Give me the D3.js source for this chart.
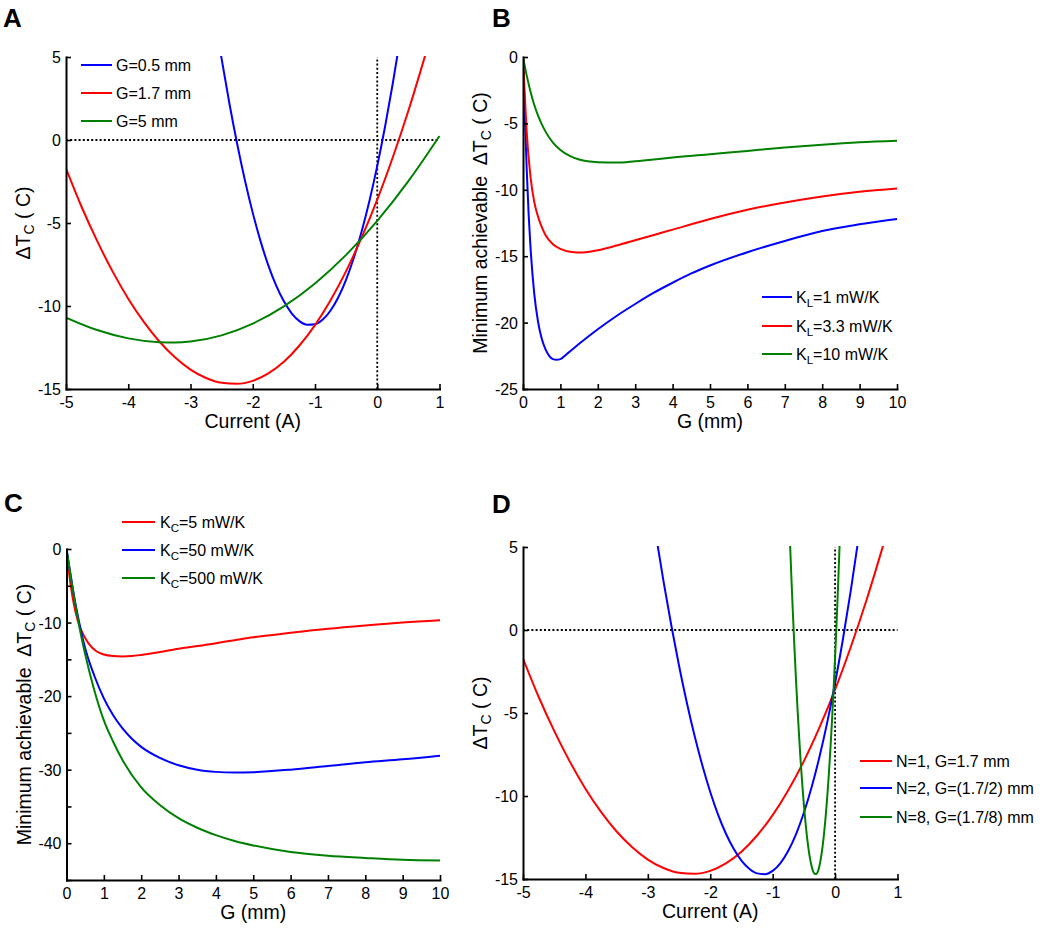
<!DOCTYPE html>
<html><head><meta charset="utf-8">
<script src="https://cdn.jsdelivr.net/npm/d3@7"></script>
<style>
body{margin:0;background:#fff}
text{font-family:"Liberation Sans",Arial,Helvetica,sans-serif;fill:#000}
</style>
</head><body>
<svg id="chart" width="1050" height="946"></svg>
<script>
// ---------- Panel A data (ΔT vs current) ----------
const aRedX   = [-5,-4.75,-4.5,-4.25,-4,-3.75,-3.5,-3.25,-3,-2.75,-2.5,-2.25,-2,-1.75,-1.5,-1.25,-1,-0.75,-0.5,-0.25,0,0.25,0.5,0.75,0.8];
const aRedY   = [-1.72,-4.02,-6.08,-7.93,-9.56,-10.96,-12.14,-13.09,-13.83,-14.34,-14.63,-14.69,-14.51,-14.06,-13.36,-12.38,-11.15,-9.65,-7.90,-5.87,-3.59,-1.04,1.76,4.84,5.48];
const aBlueX  = [-2.55,-2.5,-2.375,-2.25,-2.125,-2,-1.875,-1.75,-1.625,-1.5,-1.375,-1.25,-1.125,-1,-0.875,-0.75,-0.625,-0.5,-0.375,-0.25,-0.125,0,0.125,0.25,0.35];
const aBlueY  = [6.04,4.89,2.20,-0.24,-2.44,-4.39,-6.09,-7.55,-8.76,-9.72,-10.44,-10.91,-11.13,-11.10,-10.82,-10.27,-9.47,-8.41,-7.08,-5.50,-3.66,-1.56,0.80,3.42,5.70];
const aGreenX = [-5,-4.5,-4,-3.5,-3.25,-3,-2.5,-2,-1.5,-1,-0.5,0,0.5,1];
const aGreenY = [-10.70,-11.45,-11.95,-12.18,-12.20,-12.14,-11.77,-11.06,-10.02,-8.64,-6.92,-4.87,-2.48,0.24];
const aLegend = ["G=0.5 mm","G=1.7 mm","G=5 mm"];

// ---------- Panel B data (min ΔT vs G, varying K_L) ----------
const bBlueX  = [0,0.05,0.1,0.15,0.2,0.3,0.4,0.5,0.6,0.7,0.8,0.9,1,1.2,1.5,2,2.5,3,3.5,4,4.5,5,6,7,8,9,10];
const bBlueY  = [0,-4.5,-8.5,-11.8,-14.3,-17.8,-19.9,-21.2,-22.0,-22.5,-22.75,-22.8,-22.75,-22.3,-21.6,-20.5,-19.5,-18.6,-17.75,-17.0,-16.3,-15.7,-14.7,-13.85,-13.1,-12.6,-12.2];
const bRedX   = [0,0.05,0.1,0.2,0.3,0.4,0.5,0.6,0.8,1,1.3,1.6,2,2.5,3,3.5,4,4.5,5,6,7,8,9,10];
const bRedY   = [0,-3.0,-5.7,-9.0,-10.9,-12.0,-12.8,-13.4,-14.1,-14.45,-14.68,-14.72,-14.55,-14.2,-13.8,-13.4,-13.0,-12.6,-12.2,-11.5,-10.95,-10.5,-10.15,-9.9];
const bGreenX = [0,0.1,0.2,0.3,0.4,0.5,0.6,0.8,1,1.25,1.5,2,2.5,3,3.5,4,5,6,7,8,9,10];
const bGreenY = [0,-1.4,-2.6,-3.6,-4.4,-5.05,-5.6,-6.45,-7.0,-7.45,-7.72,-7.92,-7.95,-7.85,-7.72,-7.57,-7.32,-7.07,-6.82,-6.6,-6.42,-6.3];
const bLegend = [["K","L","=1 mW/K"],["K","L","=3.3 mW/K"],["K","L","=10 mW/K"]];

// ---------- Panel C data (min ΔT vs G, varying K_C) ----------
const cRedX   = [0,0.05,0.1,0.2,0.3,0.4,0.5,0.6,0.8,1,1.25,1.5,1.75,2,2.5,3,3.5,4,4.5,5,6,7,8,9,10];
const cRedY   = [0,-2.4,-4.5,-7.6,-9.7,-11.1,-12.1,-12.9,-13.9,-14.35,-14.55,-14.6,-14.55,-14.4,-14.0,-13.55,-13.2,-12.8,-12.4,-12.0,-11.4,-10.85,-10.4,-10.0,-9.7];
const cBlueX  = [0,0.1,0.2,0.3,0.4,0.5,0.75,1,1.25,1.5,1.75,2,2.5,3,3.5,4,4.5,5,6,7,8,9,10];
const cBlueY  = [0,-3.2,-6.3,-9.0,-11.4,-13.5,-17.3,-20.3,-22.6,-24.4,-25.8,-26.9,-28.4,-29.4,-30.0,-30.3,-30.4,-30.35,-30.0,-29.5,-29.0,-28.6,-28.1];
const cGreenX = [0,0.1,0.2,0.3,0.4,0.5,0.75,1,1.25,1.5,2,2.5,3,3.5,4,4.5,5,6,7,8,9,10];
const cGreenY = [0,-3.3,-6.5,-9.4,-12.0,-14.3,-19.3,-23.3,-26.2,-28.7,-32.4,-34.8,-36.6,-37.9,-38.9,-39.7,-40.3,-41.2,-41.7,-42.0,-42.25,-42.35];
const cLegend = [["K","C","=5 mW/K"],["K","C","=50 mW/K"],["K","C","=500 mW/K"]];

// ---------- Panel D data (ΔT vs current, N stages) ----------
const dBlueX  = [-2.875,-2.75,-2.625,-2.5,-2.375,-2.25,-2.125,-2,-1.875,-1.75,-1.625,-1.5,-1.375,-1.25,-1.125,-1,-0.875,-0.75,-0.625,-0.5,-0.375,-0.25,-0.125,0,0.125,0.25,0.375];
const dBlueY  = [5.84,2.96,0.30,-2.15,-4.38,-6.39,-8.18,-9.76,-11.12,-12.26,-13.18,-13.89,-14.38,-14.66,-14.71,-14.51,-14.04,-13.30,-12.29,-11.01,-9.46,-7.64,-5.55,-3.19,-0.57,2.34,5.51];
const dGreenX = [-0.725,-0.7,-0.675,-0.65,-0.625,-0.6,-0.575,-0.55,-0.525,-0.5,-0.475,-0.45,-0.425,-0.4,-0.375,-0.35,-0.325,-0.3,-0.275,-0.25,-0.225,-0.2,-0.175,-0.15,-0.125,-0.1,-0.075,-0.05,-0.025,0,0.025,0.05,0.075];
const dGreenY = [5.54,3.16,0.93,-1.15,-3.08,-4.87,-6.50,-7.99,-9.33,-10.52,-11.56,-12.46,-13.20,-13.80,-14.25,-14.55,-14.70,-14.70,-14.54,-14.20,-13.70,-13.04,-12.20,-11.20,-10.02,-8.68,-7.18,-5.50,-3.66,-1.65,0.53,2.88,5.39];
const dLegend = ["N=1, G=1.7 mm","N=2, G=(1.7/2) mm","N=8, G=(1.7/8) mm"];

// ---------- Tick values ----------
const currentTicks = [-5,-4,-3,-2,-1,0,1];
const gTicks = [0,1,2,3,4,5,6,7,8,9,10];
const aYTicks = [5,0,-5,-10,-15];
const bYTicks = [0,-5,-10,-15,-20,-25];
const cYTicks = [0,-5,-10,-15,-20,-25,-30,-35,-40,-45];
const cYLabelled = [0,-10,-20,-30,-40];

const BLUE="#0000ff", RED="#ff0000", GREEN="#008000";
const svg = d3.select("#chart");
const fmt = d => String(d);   // plain hyphen-minus like the original

function ylabel(g, xb, yc, prefix){
  const t = g.append("text").attr("transform",`translate(${xb},${yc}) rotate(-90)`)
    .attr("text-anchor","middle").style("font-size","19.5px").style("white-space","pre");
  t.append("tspan").text(prefix + "ΔT");
  t.append("tspan").attr("dy",4).style("font-size","14px").text("C");
  t.append("tspan").attr("dy",-4).text(" ( C)");
}

function panel(o){
  const g = svg.append("g");
  const x = d3.scaleLinear().domain(o.xd).range([o.x0,o.x1]);
  const y = d3.scaleLinear().domain(o.yd).range([o.y1,o.y0]);
  const cid = "clip"+o.name;
  svg.append("clipPath").attr("id",cid).append("rect")
    .attr("x",o.x0).attr("y",o.y0-1).attr("width",o.x1-o.x0+2).attr("height",o.y1-o.y0+1);

  if(o.zero){
    g.append("line").attr("x1",x(o.xd[0])).attr("x2",x(o.xd[1])).attr("y1",y(0)).attr("y2",y(0))
      .attr("stroke","#000").attr("stroke-width",1.8).attr("stroke-dasharray","2,2.2");
    g.append("line").attr("x1",x(0)).attr("x2",x(0)).attr("y1",y(o.yd[0])).attr("y2",y(o.yd[1]))
      .attr("stroke","#000").attr("stroke-width",1.8).attr("stroke-dasharray","2,2.2");
  }
  const line = d3.line().x(d=>x(d[0])).y(d=>y(d[1])).curve(d3.curveMonotoneX);
  o.series.forEach(s=>{
    g.append("path").datum(s.x.map((v,i)=>[v,s.y[i]]))
      .attr("clip-path",`url(#${cid})`).attr("fill","none")
      .attr("stroke",s.c).attr("stroke-width",2).attr("stroke-linejoin","round").attr("d",line);
  });

  const xa = g.append("g").attr("transform",`translate(0,${o.y1})`)
    .call(d3.axisBottom(x).tickValues(o.xt).tickFormat(fmt).tickSizeInner(-5).tickSizeOuter(0).tickPadding(8));
  const ya = g.append("g").attr("transform",`translate(${o.x0},0)`)
    .call(d3.axisLeft(y).tickValues(o.yt).tickFormat(o.yfmt || fmt).tickSizeInner(-5).tickSizeOuter(0).tickPadding(5));
  [xa,ya].forEach(a=>{
    a.select(".domain").attr("stroke","#000").attr("stroke-width",2).attr("stroke-linecap","square");
    a.selectAll(".tick line").attr("stroke","#000").attr("stroke-width",1.6);
    a.selectAll(".tick text").style("font-size","16px").style("font-family","'Liberation Sans',Arial,sans-serif").attr("fill","#000");
  });
  ya.selectAll(".tick text").attr("dy","0.34em");

  g.append("text").attr("x",(o.x0+o.x1)/2).attr("y",o.y1+39).attr("text-anchor","middle")
    .style("font-size","19.5px").text(o.xlabel);
  ylabel(g, o.x0-36, (o.y0+o.y1)/2, o.yprefix);

  g.append("text").attr("x",o.lx).attr("y",o.ly).style("font-size","26px").style("font-weight","bold").text(o.name);

  o.legend.forEach((L,i)=>{
    const yy = o.leg.y[i];
    g.append("line").attr("x1",o.leg.x1).attr("x2",o.leg.x2).attr("y1",yy).attr("y2",yy)
      .attr("stroke",o.series[o.leg.order[i]].c).attr("stroke-width",2);
    const t = g.append("text").attr("x",o.leg.tx).attr("y",yy).attr("dy","0.36em").style("font-size","16px");
    if(Array.isArray(L)){
      t.append("tspan").text(L[0]);
      t.append("tspan").attr("dy",4).style("font-size","11.5px").text(L[1]);
      t.append("tspan").attr("dy",-4).text(L[2]);
    } else t.text(L);
  });
}

panel({name:"A", xd:[-5,1], yd:[-15,5], x0:66, x1:439.5, y0:57, y1:389,
  xt:currentTicks, yt:aYTicks, zero:true, xlabel:"Current (A)", yprefix:"",
  lx:3, ly:27,
  series:[{x:aBlueX,y:aBlueY,c:BLUE},{x:aRedX,y:aRedY,c:RED},{x:aGreenX,y:aGreenY,c:GREEN}],
  legend:aLegend, leg:{x1:81,x2:112,tx:116,y:[65,93,121],order:[0,1,2]}});

panel({name:"B", xd:[0,10], yd:[-25,0], x0:523, x1:897, y0:57, y1:389,
  xt:gTicks, yt:bYTicks, zero:false, xlabel:"G (mm)", yprefix:"Minimum achievable  ",
  lx:492, ly:27,
  series:[{x:bBlueX,y:bBlueY,c:BLUE},{x:bRedX,y:bRedY,c:RED},{x:bGreenX,y:bGreenY,c:GREEN}],
  legend:bLegend, leg:{x1:762,x2:792,tx:796,y:[297,326,354],order:[0,1,2]}});

panel({name:"C", xd:[0,10], yd:[-45,0], x0:66.5, x1:440, y0:549, y1:880,
  xt:gTicks, yt:cYTicks, yfmt:d=> (cYLabelled.includes(d) ? String(d) : ""),
  zero:false, xlabel:"G (mm)", yprefix:"Minimum achievable  ",
  lx:4, ly:512,
  series:[{x:cRedX,y:cRedY,c:RED},{x:cBlueX,y:cBlueY,c:BLUE},{x:cGreenX,y:cGreenY,c:GREEN}],
  legend:cLegend, leg:{x1:122,x2:155,tx:160,y:[522,550,578],order:[0,1,2]}});

panel({name:"D", xd:[-5,1], yd:[-15,5], x0:523, x1:897.5, y0:547, y1:879,
  xt:currentTicks, yt:aYTicks, zero:true, xlabel:"Current (A)", yprefix:"",
  lx:492, ly:513,
  series:[{x:aRedX,y:aRedY,c:RED},{x:dBlueX,y:dBlueY,c:BLUE},{x:dGreenX,y:dGreenY,c:GREEN}],
  legend:dLegend, leg:{x1:860,x2:892,tx:896,y:[761,788,817],order:[0,1,2]}});
</script>
</body></html>
